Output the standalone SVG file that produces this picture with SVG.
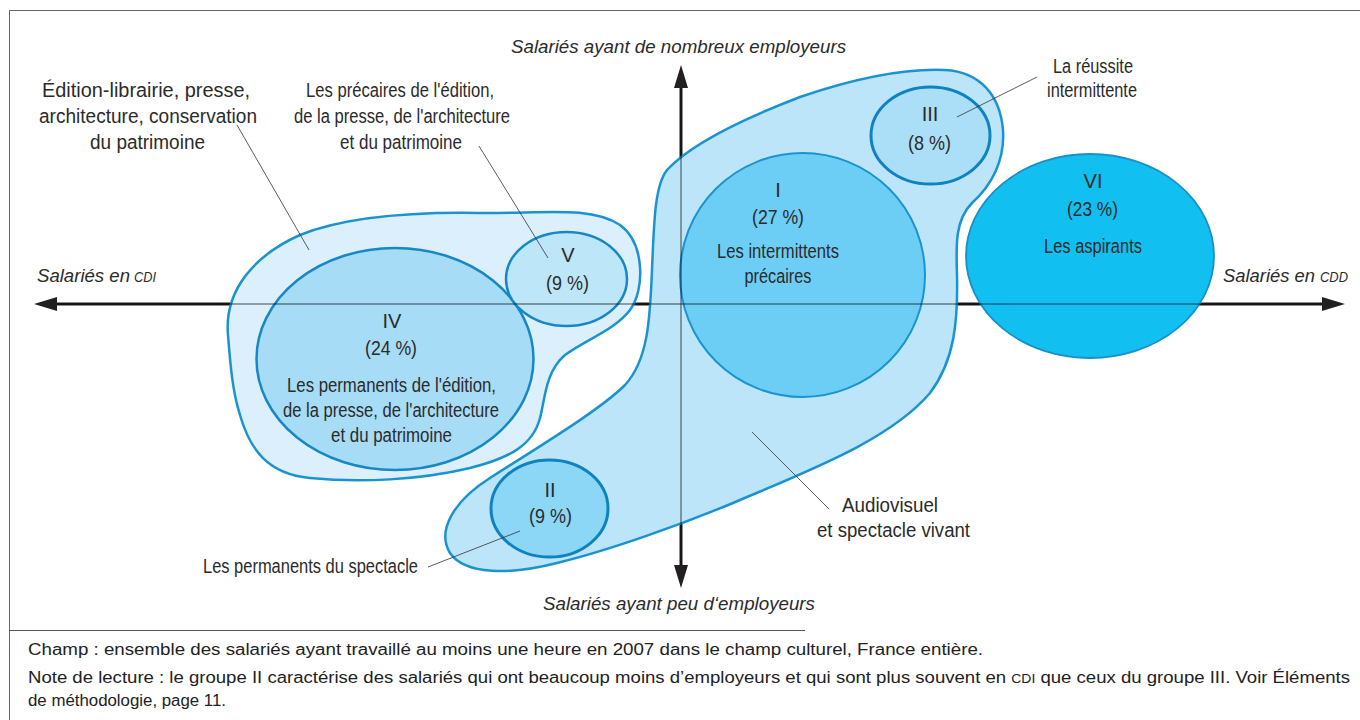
<svg xmlns="http://www.w3.org/2000/svg" width="1360" height="720" viewBox="0 0 1360 720">
  <defs>
    <style>
      .lbl { font-family: "Liberation Sans Narrow", "Liberation Sans", Arial, sans-serif; font-size: 20px; fill: #2b2b2b; text-anchor: middle; }
      .ax { font-family: "Liberation Sans", Arial, sans-serif; font-style: italic; font-size: 19px; fill: #2b2b2b; }
      .sc { font-size: 14px; }
      .foot { font-family: "Liberation Sans", Arial, sans-serif; font-size: 16px; fill: #222; }
      .lead { stroke: #333; stroke-width: 0.8; fill: none; }
      .blob { stroke: #1b93d1; stroke-width: 2.5; }
      .ell { stroke: #1787c7; stroke-width: 2.5; }
      .axis { stroke: #231f20; stroke-width: 3; fill: none; }
      .axis-ghost { stroke: #000; stroke-opacity: 0.35; stroke-width: 2; fill: none; }
    </style>
    <marker id="arrow" markerUnits="userSpaceOnUse" markerWidth="23" markerHeight="14" refX="0" refY="7" orient="auto-start-reverse">
      <path d="M0,0 L23,7 L0,14 Z" fill="#231f20"/>
    </marker>
  </defs>

  <rect width="1360" height="720" fill="#fff"/>
  <!-- frame -->
  <path d="M9.5,720 V10.5 H1360" fill="none" stroke="#666" stroke-width="1"/>

  <!-- axes (under the shapes) -->
  <g id="axes">
    <line class="axis" x1="57" y1="304" x2="1322" y2="304" marker-start="url(#arrow)" marker-end="url(#arrow)"/>
    <line class="axis" x1="681" y1="88" x2="681" y2="565" marker-start="url(#arrow)" marker-end="url(#arrow)"/>
  </g>

  <!-- publishing / heritage area -->
  <g id="edition">
    <path class="blob" fill="#dbf0fc" d="M228,335 C224,290 255,255 300,235 C350,215 420,212 480,213 C540,214 590,205 620,225 C645,243 645,290 630,310 C615,330 585,340 565,355 C545,372 545,400 540,418 C533,445 510,458 470,468 C420,480 360,483 310,478 C268,474 250,450 240,415 C232,390 230,360 228,335 Z"/>
  </g>
  <g id="group-IV">
    <ellipse class="ell" fill="#a6dcf6" cx="395" cy="359" rx="138.5" ry="111"/>
  </g>
  <g id="group-V">
    <ellipse class="ell" fill="#bee6f9" cx="566.5" cy="279" rx="60.5" ry="47"/>
  </g>

  <!-- audiovisual / live performance area -->
  <g id="audiovisuel">
    <path class="blob" fill="#bce5f9" d="M667,170 C690,145 740,120 800,97 C850,80 900,68 945,70 C980,72 1000,95 1003,130 C1005,160 992,185 972,203 C955,220 956,245 957,275 C958,320 955,360 930,393 C890,440 810,470 733,503 C680,525 610,550 557,563 C510,575 465,575 450,553 C436,530 455,500 490,478 C540,446 600,410 625,385 C648,360 650,320 652,270 C654,220 655,185 667,170 Z"/>
  </g>
  <g id="group-I">
    <ellipse cx="802.5" cy="275" rx="122.5" ry="122" fill="#6dcef5" stroke="#1b93d1" stroke-width="2"/>
  </g>
  <g id="group-III">
    <ellipse cx="930.5" cy="135.5" rx="59.5" ry="48.5" fill="#abdff8" stroke="#0f82c2" stroke-width="3"/>
  </g>
  <g id="group-II">
    <ellipse cx="549.5" cy="508.5" rx="58.5" ry="48.5" fill="#8cd7f5" stroke="#0f82c2" stroke-width="3"/>
  </g>
  <g id="group-VI">
    <ellipse cx="1090" cy="256" rx="124" ry="102" fill="#11bff0" stroke="#1a8fca" stroke-width="1.8"/>
  </g>

  <!-- axis seen through the shapes -->
  <g id="axes-through">
    <line class="axis-ghost" x1="57" y1="304" x2="1322" y2="304"/>
    <line class="axis-ghost" x1="681" y1="88" x2="681" y2="565"/>
  </g>

  <!-- leader lines -->
  <g id="connectors">
    <line class="lead" x1="237" y1="125" x2="309" y2="250"/>
    <line class="lead" x1="479" y1="146" x2="548" y2="258"/>
    <line class="lead" x1="1037" y1="77" x2="957" y2="117"/>
    <line class="lead" x1="752" y1="432" x2="829" y2="509"/>
    <line class="lead" x1="428" y1="567" x2="520" y2="531"/>
  </g>

  <!-- axis captions -->
  <g id="axis-labels">
    <text class="ax" x="678.5" y="53" text-anchor="middle" textLength="335" lengthAdjust="spacingAndGlyphs">Salariés ayant de nombreux employeurs</text>
    <text class="ax" x="679" y="610" text-anchor="middle" textLength="272" lengthAdjust="spacingAndGlyphs">Salariés ayant peu d‘employeurs</text>
    <text class="ax" x="37" y="282" textLength="93" lengthAdjust="spacingAndGlyphs">Salariés en</text>
    <text class="ax sc" x="134" y="282" textLength="22" lengthAdjust="spacingAndGlyphs">CDI</text>
    <text class="ax" x="1223" y="282" textLength="92" lengthAdjust="spacingAndGlyphs">Salariés en</text>
    <text class="ax sc" x="1320" y="282" textLength="28" lengthAdjust="spacingAndGlyphs">CDD</text>
  </g>

  <!-- labels -->
  <g id="labels">
    <text class="lbl" x="146" y="97" textLength="208" lengthAdjust="spacingAndGlyphs">Édition-librairie, presse,</text>
    <text class="lbl" x="148" y="123" textLength="218" lengthAdjust="spacingAndGlyphs">architecture, conservation</text>
    <text class="lbl" x="147.5" y="149" textLength="115" lengthAdjust="spacingAndGlyphs">du patrimoine</text>

    <text class="lbl" x="400" y="97" textLength="188" lengthAdjust="spacingAndGlyphs">Les précaires de l'édition,</text>
    <text class="lbl" x="402" y="123" textLength="216" lengthAdjust="spacingAndGlyphs">de la presse, de l'architecture</text>
    <text class="lbl" x="401" y="149" textLength="122" lengthAdjust="spacingAndGlyphs">et du patrimoine</text>

    <text class="lbl" x="1093" y="73" textLength="80" lengthAdjust="spacingAndGlyphs">La réussite</text>
    <text class="lbl" x="1092" y="97" textLength="90" lengthAdjust="spacingAndGlyphs">intermittente</text>

    <text class="lbl" x="930" y="121">III</text>
    <text class="lbl" x="929.5" y="150" textLength="43" lengthAdjust="spacingAndGlyphs">(8 %)</text>

    <text class="lbl" x="778" y="197">I</text>
    <text class="lbl" x="778" y="224" textLength="52" lengthAdjust="spacingAndGlyphs">(27 %)</text>
    <text class="lbl" x="778" y="258" textLength="122" lengthAdjust="spacingAndGlyphs">Les intermittents</text>
    <text class="lbl" x="778" y="283" textLength="67" lengthAdjust="spacingAndGlyphs">précaires</text>

    <text class="lbl" x="1093" y="188">VI</text>
    <text class="lbl" x="1092.5" y="216" textLength="51" lengthAdjust="spacingAndGlyphs">(23 %)</text>
    <text class="lbl" x="1093" y="253" textLength="98" lengthAdjust="spacingAndGlyphs">Les aspirants</text>

    <text class="lbl" x="568" y="262">V</text>
    <text class="lbl" x="567.5" y="290" textLength="43" lengthAdjust="spacingAndGlyphs">(9 %)</text>

    <text class="lbl" x="392" y="328">IV</text>
    <text class="lbl" x="391" y="355" textLength="52" lengthAdjust="spacingAndGlyphs">(24 %)</text>
    <text class="lbl" x="391.5" y="392" textLength="209" lengthAdjust="spacingAndGlyphs">Les permanents de l'édition,</text>
    <text class="lbl" x="391" y="417" textLength="216" lengthAdjust="spacingAndGlyphs">de la presse, de l'architecture</text>
    <text class="lbl" x="391.5" y="442" textLength="121" lengthAdjust="spacingAndGlyphs">et du patrimoine</text>

    <text class="lbl" x="550" y="497">II</text>
    <text class="lbl" x="550.5" y="523" textLength="43" lengthAdjust="spacingAndGlyphs">(9 %)</text>

    <text class="lbl" x="890" y="512" textLength="96" lengthAdjust="spacingAndGlyphs">Audiovisuel</text>
    <text class="lbl" x="893.5" y="537" textLength="153" lengthAdjust="spacingAndGlyphs">et spectacle vivant</text>

    <text class="lbl" x="310.5" y="573" textLength="215" lengthAdjust="spacingAndGlyphs">Les permanents du spectacle</text>
  </g>

  <!-- notes -->
  <g id="notes">
    <line x1="9.5" y1="630.5" x2="805" y2="630.5" stroke="#555" stroke-width="1"/>
    <text class="foot" x="28" y="655" textLength="955" lengthAdjust="spacingAndGlyphs">Champ : ensemble des salariés ayant travaillé au moins une heure en 2007 dans le champ culturel, France entière.</text>
    <text class="foot" x="28" y="683" textLength="1322" lengthAdjust="spacingAndGlyphs">Note de lecture : le groupe II caractérise des salariés qui ont beaucoup moins d’employeurs et qui sont plus souvent en <tspan font-size="12">CDI</tspan> que ceux du groupe III. Voir Éléments</text>
    <text class="foot" x="28" y="706" textLength="198" lengthAdjust="spacingAndGlyphs">de méthodologie, page 11.</text>
  </g>
</svg>
